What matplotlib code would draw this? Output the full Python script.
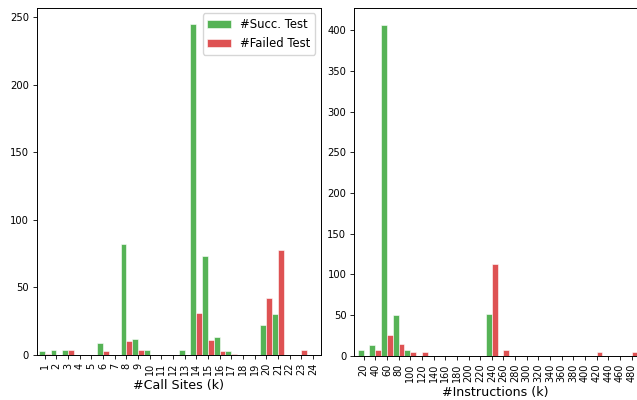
import numpy as np
import matplotlib
matplotlib.use("Agg")
import matplotlib.pyplot as plt

call_site_labels = [str(i) for i in range(1, 25)]
call_succ = [3, 4, 4, 0, 0, 9, 0, 82, 12, 4, 0, 0, 4, 245, 73, 13, 3, 0, 0, 22, 30, 0, 0, 0]
call_fail = [1, 0, 4, 0, 0, 3, 0, 10, 4, 0, 0, 0, 0, 31, 11, 3, 1, 0, 0, 42, 78, 0, 4, 0]

instr_labels = [str(v) for v in range(20, 500, 20)]
instr_succ = [7, 13, 407, 50, 7, 0, 0, 0, 0, 0, 0, 51, 0, 0, 0, 0, 0, 0, 0, 0, 0, 0, 0, 0]
instr_fail = [0, 7, 25, 14, 5, 4, 0, 0, 0, 0, 0, 113, 7, 0, 0, 0, 0, 0, 0, 0, 4, 0, 0, 4]

green = "tab:green"
red = "tab:red"

plt.rcParams.update({
    "axes.linewidth": 0.7,
    "xtick.major.width": 0.6,
    "ytick.major.width": 0.6,
    "xtick.major.size": 3.0,
    "ytick.major.size": 3.0,
    "xtick.major.pad": 2.5,
    "ytick.major.pad": 2.5,
})

fig = plt.figure(figsize=(6.37, 4.0), dpi=100)
ax1 = fig.add_axes([36.7 / 637, 45 / 400, 284 / 637, 347.5 / 400])
ax2 = fig.add_axes([354 / 637, 44.3 / 400, 282.5 / 637, 347.7 / 400])


def draw(ax, labels, succ, fail, xlabel, xlim):
    x = np.arange(len(labels))
    ax.bar(x - 0.25, succ, width=0.5, color=green, alpha=0.8,
           edgecolor="white", linewidth=0.5, label="#Succ. Test")
    ax.bar(x + 0.25, fail, width=0.5, color=red, alpha=0.8,
           edgecolor="white", linewidth=0.5, label="#Failed Test")
    ax.set_xticks(x)
    ax.set_xticklabels(labels, rotation=90)
    ax.set_xlim(*xlim)
    ax.set_xlabel(xlabel, fontsize=9.1, labelpad=3)
    ax.tick_params(axis="x", labelsize=7.0)
    ax.tick_params(axis="y", labelsize=7.2)


draw(ax1, call_site_labels, call_succ, call_fail, "#Call Sites (k)", (-0.69, 23.67))
draw(ax2, instr_labels, instr_succ, instr_fail, "#Instructions (k)", (-0.83, 23.42))

ax1.legend(loc="upper right", fontsize=8.4)

fig.savefig("out.png", dpi=100)
